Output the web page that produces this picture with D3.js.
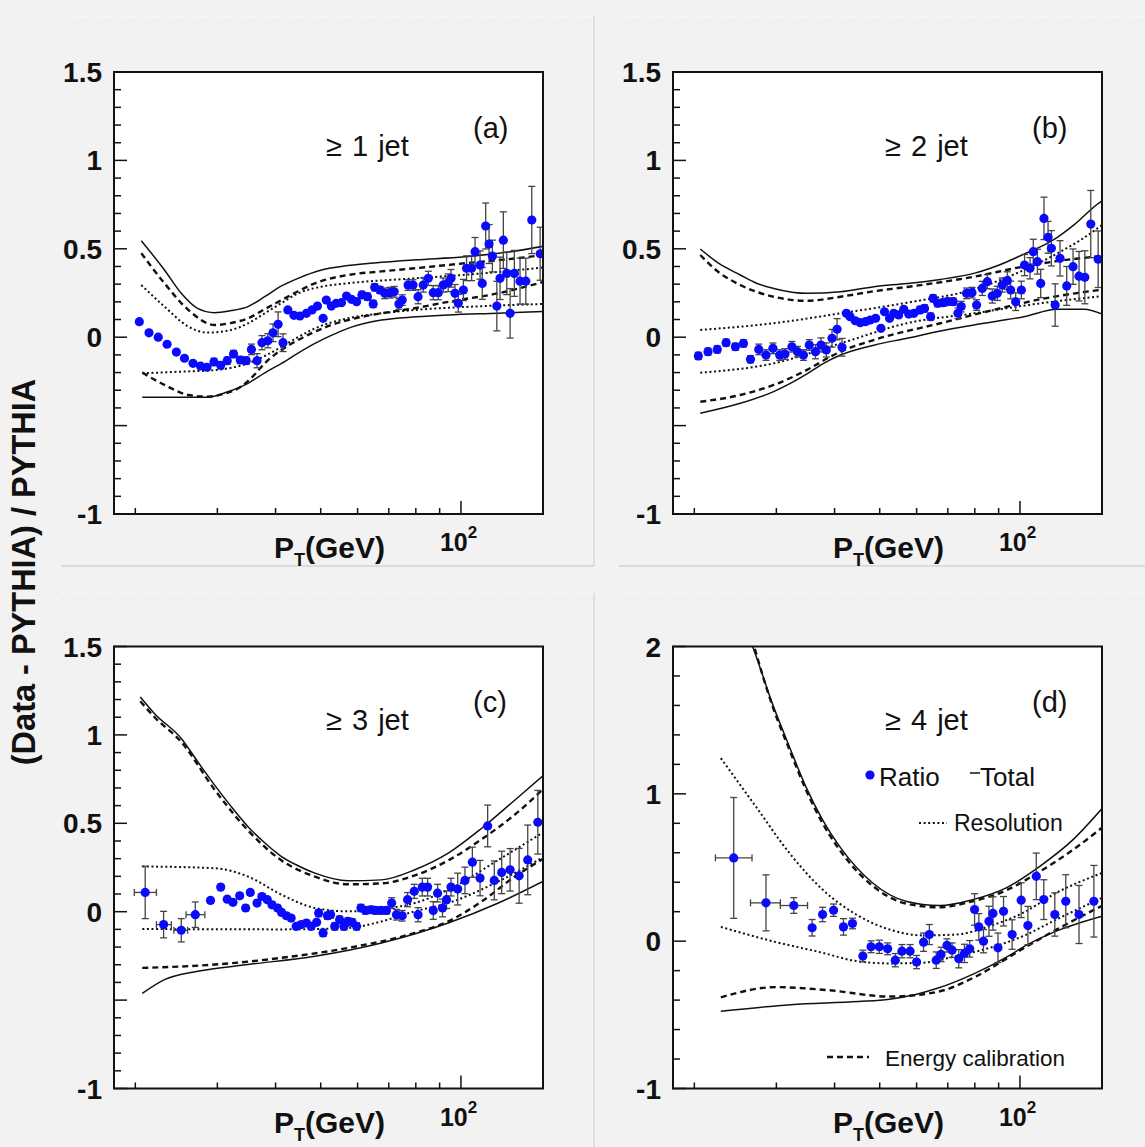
<!DOCTYPE html>
<html><head><meta charset="utf-8">
<script src="https://cdn.jsdelivr.net/npm/d3@7"></script>
<style>
html,body{margin:0;padding:0;background:#f2f2f2;}
svg{display:block;font-family:"Liberation Sans",Arial,Helvetica,sans-serif;}
</style></head><body>
<svg id="c" width="1145" height="1147"></svg>
<script>
// ---------------- data ----------------
// x-axis ticks (log scale, GeV)
const xMinorTicks = [20,30,40,50,60,70,80,90];
const xMajorTicks = [100];
const xDomain = [18, 150];
// y-axis labels
const yLabelValsABC = [1.5,1,0.5,0,-1];
const yLabelsABC = ["1.5","1","0.5","0","-1"];
const yLabelValsD = [2,1,0,-1];
const yLabelsD = ["2","1","0","-1"];
const panelLabels = ["\u2265 1 jet","\u2265 2 jet","\u2265 3 jet","\u2265 4 jet"];
const panelTags = ["(a)","(b)","(c)","(d)"];

// Panel (a)  >= 1 jet
const aPt = [20.4,21.4,22.4,23.4,24.5,25.5,26.6,27.6,28.5,29.5,30.5,31.5,32.5,33.6,34.6,35.5,36.5,37.4,38.5,39.5,40.5,41.5,42.5,43.8,45.1,46.6,47.9,49.2,50.6,51.4,52.7,54.0,55.4,56.8,58.2,59.7,61.3,63.0,64.8,65.3,67.0,68.6,70.4,71.9,73.6,74.8,77.0,78.9,80.9,83.0,85.1,87.2,89.4,91.6,93.9,95.2,97.1,98.7,101.2,102.8,105.4,107.2,109.9,111.1,113.0,114.9,116.8,119.4,121.3,123.3,125.4,127.5,130.2,133.9,137.8,141.9,147.9];
const aRatio = [0.088,0.025,0.0,-0.040,-0.084,-0.119,-0.148,-0.163,-0.170,-0.140,-0.159,-0.133,-0.095,-0.129,-0.133,-0.069,-0.133,-0.031,-0.020,0.025,0.073,-0.031,0.154,0.124,0.120,0.135,0.154,0.176,0.107,0.210,0.176,0.192,0.195,0.233,0.214,0.201,0.239,0.229,0.188,0.282,0.267,0.248,0.252,0.257,0.188,0.210,0.295,0.295,0.229,0.295,0.333,0.252,0.252,0.295,0.308,0.333,0.248,0.192,0.267,0.390,0.390,0.484,0.408,0.304,0.629,0.527,0.459,0.176,0.333,0.549,0.361,0.135,0.361,0.317,0.317,0.663,0.472];
const aErr = [0.01,0.01,0.01,0.01,0.01,0.01,0.01,0.01,0.01,0.02,0.02,0.02,0.02,0.02,0.02,0.03,0.04,0.04,0.04,0.05,0.07,0.05,0.01,0.01,0.01,0.01,0.01,0.01,0.01,0.01,0.01,0.01,0.01,0.01,0.01,0.01,0.02,0.02,0.02,0.02,0.02,0.03,0.03,0.03,0.03,0.03,0.03,0.03,0.04,0.04,0.04,0.04,0.04,0.04,0.05,0.05,0.05,0.05,0.06,0.07,0.07,0.08,0.08,0.09,0.13,0.11,0.09,0.14,0.12,0.16,0.12,0.14,0.13,0.13,0.13,0.19,0.15];
const aTotalHi = [[20.6,0.546],[23.1,0.38],[25.1,0.248],[27.2,0.163],[29.6,0.139],[32,0.15],[34.9,0.173],[37.9,0.229],[41.2,0.29],[44.7,0.333],[50.2,0.38],[57.2,0.405],[67.5,0.424],[80,0.438],[102,0.455],[125,0.48],[151,0.515]];
const aTotalLo = [[20.7,-0.34],[24,-0.34],[28.6,-0.34],[31.5,-0.31],[34.9,-0.261],[38,-0.2],[41.2,-0.148],[44.7,-0.09],[48.6,-0.035],[52.7,0.01],[57.2,0.05],[67.5,0.097],[80,0.115],[93.9,0.126],[120,0.136],[151,0.146]];
const aCalHi = [[20.6,0.475],[23.1,0.305],[26,0.154],[29.6,0.069],[32,0.08],[34.9,0.107],[38,0.16],[41.2,0.21],[44.7,0.26],[48.6,0.305],[57.2,0.352],[67.5,0.372],[79.6,0.39],[102,0.418],[125,0.44],[151,0.465]];
const aCalLo = [[20.7,-0.2],[23.1,-0.27],[26,-0.327],[28.6,-0.336],[31,-0.32],[33.7,-0.28],[35.8,-0.22],[37.9,-0.148],[41,-0.075],[44.7,-0.016],[52.7,0.069],[60,0.11],[67.5,0.135],[80,0.165],[93.9,0.2],[120,0.248],[151,0.314]];
const aResHi = [[20.6,0.295],[23.1,0.173],[26,0.06],[28.6,0.026],[32,0.04],[35,0.08],[37.9,0.135],[41,0.19],[44.7,0.248],[50,0.285],[57.2,0.305],[79.6,0.333],[110,0.36],[151,0.395]];
const aResLo = [[20.7,-0.204],[25,-0.195],[29.6,-0.186],[34.9,-0.148],[38,-0.105],[41.2,-0.054],[44.7,0.0],[48.6,0.05],[57.2,0.107],[67.5,0.135],[79.6,0.154],[110,0.175],[151,0.188]];

// Panel (b)  >= 2 jet
const bPt = [20.4,21.4,22.4,23.4,24.5,25.5,26.4,27.5,28.5,29.5,30.5,31.3,32.4,33.3,34.3,35.3,36.4,37.4,38.4,39.5,40.5,41.5,42.4,43.2,44.3,45.4,46.6,47.7,49.0,50.3,51.2,52.5,53.6,54.9,56.3,57.7,59.2,61.0,62.4,64.3,65.1,66.6,68.4,70.0,71.9,73.6,74.8,76.8,78.9,80.7,83.0,85.1,87.2,89.4,91.6,93.9,95.5,97.9,100.7,102.3,105.1,106.8,109.0,110.8,112.6,114.9,116.8,119.0,121.9,126.0,130.0,133.9,137.8,141.9,147.2];
const bRatio = [-0.106,-0.082,-0.069,-0.031,-0.054,-0.035,-0.125,-0.069,-0.101,-0.063,-0.101,-0.095,-0.054,-0.082,-0.101,-0.044,-0.082,-0.044,-0.072,-0.006,0.045,-0.057,0.135,0.116,0.093,0.082,0.088,0.097,0.107,0.050,0.144,0.107,0.135,0.126,0.158,0.131,0.135,0.154,0.163,0.116,0.220,0.192,0.195,0.201,0.201,0.135,0.173,0.248,0.252,0.182,0.276,0.314,0.233,0.248,0.295,0.320,0.267,0.201,0.267,0.408,0.390,0.484,0.427,0.304,0.672,0.565,0.503,0.182,0.446,0.290,0.399,0.345,0.339,0.640,0.441];
const bErr = [0.02,0.02,0.02,0.02,0.02,0.02,0.02,0.03,0.03,0.03,0.03,0.03,0.03,0.03,0.03,0.03,0.04,0.04,0.04,0.05,0.06,0.05,0.01,0.01,0.01,0.01,0.01,0.01,0.01,0.01,0.01,0.01,0.01,0.01,0.01,0.01,0.01,0.02,0.02,0.02,0.02,0.02,0.02,0.02,0.02,0.03,0.03,0.03,0.03,0.03,0.04,0.04,0.04,0.04,0.04,0.05,0.05,0.05,0.05,0.06,0.06,0.07,0.07,0.08,0.12,0.09,0.10,0.12,0.10,0.11,0.10,0.14,0.15,0.19,0.16];
const bTotalHi = [[20.6,0.499],[22.5,0.42],[25.1,0.352],[27.2,0.305],[29.6,0.276],[34.9,0.248],[41.2,0.257],[48.6,0.286],[57.2,0.304],[67.5,0.327],[79.6,0.361],[93.9,0.427],[102,0.47],[110.8,0.512],[120.3,0.565],[130.6,0.635],[149,0.766],[151,0.775]];
const bTotalLo = [[20.6,-0.43],[25.1,-0.374],[29.6,-0.308],[34.9,-0.208],[37.9,-0.148],[41.2,-0.101],[48.6,-0.045],[57.2,-0.006],[67.5,0.035],[79.6,0.069],[102,0.116],[120.3,0.158],[137.3,0.158],[151,0.128]];
const bCalHi = [[20.6,0.465],[22.5,0.37],[25.1,0.295],[29.6,0.229],[34.9,0.206],[41.2,0.229],[48.6,0.26],[57.2,0.284],[79.6,0.342],[102,0.40],[120,0.43],[151,0.46]];
const bCalLo = [[20.6,-0.365],[25.1,-0.327],[29.6,-0.27],[34.9,-0.185],[39.2,-0.11],[41.2,-0.082],[48.5,-0.016],[67.5,0.079],[93.9,0.173],[110.8,0.215],[151,0.27]];
const bResHi = [[20.6,0.041],[29.6,0.079],[41.2,0.135],[57.2,0.195],[79.6,0.271],[102,0.38],[120.3,0.474],[135,0.55],[151,0.64]];
const bResLo = [[20.6,-0.201],[29.6,-0.148],[41.2,-0.035],[57.2,0.079],[79.6,0.135],[110.8,0.192],[151,0.233]];

// Panel (c)  >= 3 jet
const cPt = [21.0,23.0,25.1,26.9,29.0,30.5,31.5,32.4,33.5,34.5,35.3,36.5,37.4,38.4,39.3,40.4,41.2,42.2,43.2,44.3,45.4,46.6,47.7,49.0,49.5,50.6,51.7,52.5,53.6,54.9,56.1,57.2,58.4,59.7,61.0,62.4,64.1,65.5,67.3,69.2,71.0,72.7,74.8,76.8,79.4,80.9,82.6,84.8,87.2,89.1,91.3,93.1,95.2,98.4,102.0,105.8,109.9,114.1,117.9,122.3,127.5,133.3,139.1,146.2];
const cRatio = [0.109,-0.073,-0.105,-0.017,0.064,0.139,0.071,0.053,0.090,0.021,0.109,0.049,0.086,0.068,0.039,0.021,-0.004,-0.023,-0.036,-0.083,-0.073,-0.064,-0.083,-0.060,-0.008,-0.120,-0.023,-0.017,-0.083,-0.045,-0.083,-0.055,-0.060,-0.083,0.021,0.007,0.011,0.007,0.007,0.007,0.049,-0.017,-0.023,0.068,0.115,-0.017,0.139,0.139,0.007,0.105,0.021,0.068,0.139,0.128,0.177,0.280,0.190,0.485,0.177,0.222,0.237,0.203,0.293,0.506];
const cErr = [0.148,0.075,0.066,0.072,0.015,0.015,0.015,0.015,0.015,0.015,0.015,0.015,0.015,0.015,0.015,0.015,0.015,0.015,0.015,0.015,0.015,0.015,0.015,0.015,0.02,0.02,0.02,0.02,0.02,0.02,0.02,0.02,0.02,0.02,0.02,0.02,0.02,0.02,0.02,0.02,0.03,0.03,0.03,0.04,0.04,0.04,0.05,0.05,0.05,0.05,0.05,0.05,0.05,0.09,0.075,0.085,0.10,0.118,0.11,0.12,0.12,0.155,0.197,0.18];
const cXLo = [19.9,22.2,24.2,25.7];
const cXHi = [22.2,23.9,25.9,28.2];
const cTotalHi = [[20.5,1.215],[22,1.12],[25.1,0.98],[27.2,0.85],[29.6,0.716],[32,0.6],[34.9,0.481],[37.9,0.39],[41.2,0.312],[44.7,0.26],[48.6,0.218],[57.2,0.175],[67.5,0.18],[79.6,0.237],[93.9,0.331],[110.8,0.472],[130.6,0.632],[151,0.775]];
const cTotalLo = [[20.7,-0.462],[23.1,-0.384],[27.2,-0.337],[34.9,-0.299],[48.6,-0.252],[67.5,-0.177],[93.9,-0.064],[120.3,0.049],[151,0.175]];
const cCalHi = [[20.5,1.19],[22,1.1],[25.1,0.96],[29.6,0.69],[34.9,0.46],[41.2,0.29],[48.6,0.198],[57.2,0.155],[67.5,0.16],[79.6,0.205],[93.9,0.29],[110.8,0.41],[130.6,0.55],[151,0.70]];
const cCalLo = [[20.7,-0.318],[29.6,-0.299],[41.2,-0.261],[57.2,-0.205],[79.6,-0.12],[93.9,-0.055],[110.8,0.058],[130.6,0.199],[151,0.303]];
const cResHi = [[20.7,0.256],[29.6,0.246],[34.9,0.199],[41.2,0.096],[48.6,0.021],[57.2,0.002],[67.5,0.015],[79.6,0.049],[93.9,0.124],[120.3,0.293],[151,0.453]];
const cResLo = [[20.7,-0.098],[41.2,-0.1],[57.2,-0.092],[67.5,-0.055],[79.6,0.002],[93.9,0.049],[120.3,0.171],[151,0.312]];

// Panel (d)  >= 4 jet
const dPt = [24.3,28.5,32.7,35.8,37.7,39.8,41.8,43.7,46.0,47.9,49.9,52.0,54.0,55.8,58.1,60.0,62.1,63.9,66.1,67.7,69.7,71.5,73.9,76.0,78.0,79.9,81.6,83.5,85.8,87.5,89.7,92.2,96.2,100.6,104.0,108.4,112.5,118.8,125.4,133.9,144.1];
const dRatio = [0.565,0.260,0.242,0.091,0.181,0.210,0.097,0.120,-0.101,-0.038,-0.038,-0.052,-0.129,-0.068,-0.068,-0.142,-0.007,0.045,-0.129,-0.090,-0.029,-0.061,-0.119,-0.083,-0.052,0.215,0.097,0.0,0.135,0.188,-0.045,0.203,0.045,0.278,0.106,0.440,0.282,0.181,0.271,0.181,0.271];
const dErr = [0.41,0.19,0.053,0.056,0.049,0.042,0.056,0.036,0.04,0.04,0.045,0.04,0.045,0.045,0.045,0.045,0.062,0.068,0.056,0.049,0.045,0.049,0.062,0.062,0.056,0.107,0.09,0.079,0.102,0.113,0.10,0.10,0.10,0.118,0.13,0.158,0.135,0.147,0.18,0.197,0.243];
const dXLo = [22.2,26.4,30.6];
const dXHi = [26.6,30.6,35.0];
const dTotalHi = [[26.3,2.05],[26.7,1.997],[29.4,1.614],[32,1.32],[34.7,1.049],[37.7,0.824],[41,0.643],[48.3,0.395],[56.9,0.271],[67.2,0.242],[79.2,0.282],[93.4,0.362],[110.3,0.508],[130,0.689],[150,0.9]];
const dTotalLo = [[22.8,-0.476],[32.2,-0.431],[45,-0.41],[52.5,-0.394],[60,-0.36],[66.5,-0.32],[79.8,-0.22],[93.4,-0.11],[102.9,-0.03],[120,0.07],[150,0.17]];
const dCalHi = [[26.6,2.05],[29.4,1.60],[32,1.30],[34.7,1.03],[37.7,0.80],[41,0.62],[48.3,0.375],[57,0.255],[67,0.23],[79,0.27],[93.4,0.345],[110,0.47],[130,0.62],[150,0.77]];
const dCalLo = [[22.8,-0.381],[29.9,-0.312],[38.6,-0.332],[52.5,-0.376],[66.5,-0.344],[79.8,-0.245],[93.4,-0.12],[102.9,-0.04],[120,0.08],[150,0.24]];
const dResHi = [[22.8,1.242],[27.1,0.914],[32,0.598],[37.7,0.35],[44.5,0.181],[52.5,0.079],[61.9,0.039],[72.9,0.045],[86.1,0.102],[101.5,0.192],[119.7,0.328],[150,0.463]];
const dResLo = [[22.8,0.097],[29.4,0.0],[37.7,-0.079],[44.5,-0.135],[52.5,-0.151],[61.9,-0.146],[72.9,-0.102],[86.1,-0.045],[101.5,0.034],[119.7,0.147],[150,0.294]];

// legend texts
const legendItems = ["Ratio","Total","Resolution","Energy calibration"];

// ---------------- drawing ----------------
const svg = d3.select("#c");
const W = 429, H = 442;
const panels = [
  {x0:114, y0:72,    yDom:[-1,1.5], yMinor:0.1, yMajor:0.5, yv:yLabelValsABC, yl:yLabelsABC,
   pt:aPt, r:aRatio, e:aErr, xlo:[], xhi:[], curves:[aTotalHi,aTotalLo,aCalHi,aCalLo,aResHi,aResLo]},
  {x0:673, y0:72,    yDom:[-1,1.5], yMinor:0.1, yMajor:0.5, yv:yLabelValsABC, yl:yLabelsABC,
   pt:bPt, r:bRatio, e:bErr, xlo:[], xhi:[], curves:[bTotalHi,bTotalLo,bCalHi,bCalLo,bResHi,bResLo]},
  {x0:114, y0:646.5, yDom:[-1,1.5], yMinor:0.1, yMajor:0.5, yv:yLabelValsABC, yl:yLabelsABC,
   pt:cPt, r:cRatio, e:cErr, xlo:cXLo, xhi:cXHi, curves:[cTotalHi,cTotalLo,cCalHi,cCalLo,cResHi,cResLo]},
  {x0:673, y0:646.5, yDom:[-1,2], yMinor:0.2, yMajor:1, yv:yLabelValsD, yl:yLabelsD,
   pt:dPt, r:dRatio, e:dErr, xlo:dXLo, xhi:dXHi, curves:[dTotalHi,dTotalLo,dCalHi,dCalLo,dResHi,dResLo]}
];
const curveStyles = [
  {w:1.5, dash:null},{w:1.5, dash:null},
  {w:2.4, dash:"6,4"},{w:2.4, dash:"6,4"},
  {w:2.0, dash:"2,2.6"},{w:2.0, dash:"2,2.6"}
];

// pad decorations
const deco = svg.append("g");
[[61,594],[619,1145]].forEach(([xa,xb])=>{
  [16.5,593].forEach(yy=>deco.append("line").attr("x1",xa).attr("x2",xb).attr("y1",yy).attr("y2",yy)
     .attr("stroke","#fafafa").attr("stroke-width",1.5).attr("stroke-dasharray","3,3"));
  deco.append("line").attr("x1",xa).attr("x2",xb).attr("y1",566).attr("y2",566)
     .attr("stroke","#d4d4d4").attr("stroke-width",1.5);
});
deco.append("line").attr("x1",594).attr("x2",594).attr("y1",16).attr("y2",566).attr("stroke","#d8d8d8").attr("stroke-width",1.5);
deco.append("line").attr("x1",594).attr("x2",594).attr("y1",593).attr("y2",1147).attr("stroke","#d8d8d8").attr("stroke-width",1.5);

panels.forEach((p,i)=>{
  const g = svg.append("g");
  const x = d3.scaleLog().domain(xDomain).range([p.x0, p.x0+W]);
  const y = d3.scaleLinear().domain(p.yDom).range([p.y0+H, p.y0]);
  const cid = "clip"+i;
  g.append("clipPath").attr("id",cid).append("rect")
    .attr("x",p.x0).attr("y",p.y0).attr("width",W).attr("height",H);
  g.append("rect").attr("x",p.x0).attr("y",p.y0).attr("width",W).attr("height",H)
    .attr("fill","#ffffff");

  // curves
  const line = d3.line().x(d=>x(d[0])).y(d=>y(d[1])).curve(d3.curveMonotoneX);
  const cg = g.append("g").attr("clip-path",`url(#${cid})`);
  p.curves.forEach((c,k)=>{
    const st = curveStyles[k];
    const path = cg.append("path").attr("d",line(c)).attr("fill","none")
      .attr("stroke","#111").attr("stroke-width",st.w);
    if(st.dash) path.attr("stroke-dasharray",st.dash);
  });

  // error bars
  const eg = cg.append("g").attr("stroke","#444").attr("stroke-width",1.3);
  const cap = 3.5;
  p.pt.forEach((v,j)=>{
    const xx = x(v), y1 = y(p.r[j]-p.e[j]), y2 = y(p.r[j]+p.e[j]);
    eg.append("line").attr("x1",xx).attr("x2",xx).attr("y1",y1).attr("y2",y2);
    eg.append("line").attr("x1",xx-cap).attr("x2",xx+cap).attr("y1",y1).attr("y2",y1);
    eg.append("line").attr("x1",xx-cap).attr("x2",xx+cap).attr("y1",y2).attr("y2",y2);
    if(j < p.xlo.length){
      const yy = y(p.r[j]), xa = x(p.xlo[j]), xb = x(p.xhi[j]);
      eg.append("line").attr("x1",xa).attr("x2",xb).attr("y1",yy).attr("y2",yy);
      eg.append("line").attr("x1",xa).attr("x2",xa).attr("y1",yy-cap).attr("y2",yy+cap);
      eg.append("line").attr("x1",xb).attr("x2",xb).attr("y1",yy-cap).attr("y2",yy+cap);
    }
  });
  // points
  cg.append("g").selectAll("circle").data(p.pt).join("circle")
    .attr("cx",d=>x(d)).attr("cy",(d,j)=>y(p.r[j])).attr("r",4.6).attr("fill","#0a0aff");

  // frame
  g.append("rect").attr("x",p.x0).attr("y",p.y0).attr("width",W).attr("height",H)
    .attr("fill","none").attr("stroke","#111").attr("stroke-width",2);

  // x ticks (inside, from bottom)
  const tg = g.append("g").attr("stroke","#111").attr("stroke-width",1.5);
  xMinorTicks.forEach(t=>tg.append("line").attr("x1",x(t)).attr("x2",x(t)).attr("y1",p.y0+H).attr("y2",p.y0+H-6));
  xMajorTicks.forEach(t=>tg.append("line").attr("x1",x(t)).attr("x2",x(t)).attr("y1",p.y0+H).attr("y2",p.y0+H-13));
  // y ticks
  const nMin = Math.round((p.yDom[1]-p.yDom[0])/p.yMinor);
  for(let k=0;k<=nMin;k++){
    const v = p.yDom[0] + k*p.yMinor;
    const isMaj = Math.abs(v/p.yMajor - Math.round(v/p.yMajor)) < 1e-6;
    tg.append("line").attr("x1",p.x0).attr("x2",p.x0+(isMaj?13:7)).attr("y1",y(v)).attr("y2",y(v));
  }
  // y labels
  p.yv.forEach((v,k)=>{
    g.append("text").attr("x",p.x0-12).attr("y",y(v)+10).attr("text-anchor","end")
      .attr("font-size",28).attr("font-weight","bold").attr("fill","#111").text(p.yl[k]);
  });
  // x label 10^2
  const xt = g.append("text").attr("x",x(100)-21).attr("y",p.y0+H+37)
    .attr("font-size",25).attr("font-weight","bold").attr("fill","#111");
  xt.append("tspan").text("10");
  xt.append("tspan").attr("font-size",17).attr("dy",-13).text("2");
  // x title
  const tt = g.append("text").attr("x",p.x0+160).attr("y",p.y0+H+44)
    .attr("font-size",30).attr("font-weight","bold").attr("fill","#111");
  tt.append("tspan").text("P");
  tt.append("tspan").attr("font-size",18).attr("dy",8).text("T");
  tt.append("tspan").attr("dy",-8).text("(GeV)");
  // panel labels
  g.append("text").attr("x",p.x0+212).attr("y",p.y0+83.5).attr("font-size",29)
    .attr("word-spacing",2).attr("fill","#111").text(panelLabels[i]);
  g.append("text").attr("x",p.x0+359).attr("y",p.y0+65.6).attr("font-size",29)
    .attr("fill","#111").text(panelTags[i]);

  if(i===3){
    const lg = g.append("g").attr("fill","#111");
    lg.append("circle").attr("cx",p.x0+197).attr("cy",p.y0+128.5).attr("r",4.6).attr("fill","#0a0aff");
    lg.append("text").attr("x",p.x0+206).attr("y",p.y0+139.5).attr("font-size",26).text(legendItems[0]);
    lg.append("line").attr("x1",p.x0+297).attr("x2",p.x0+307).attr("y1",p.y0+126.5).attr("y2",p.y0+126.5)
      .attr("stroke","#111").attr("stroke-width",1.5);
    lg.append("text").attr("x",p.x0+307).attr("y",p.y0+139.5).attr("font-size",26).text(legendItems[1]);
    lg.append("line").attr("x1",p.x0+246).attr("x2",p.x0+274).attr("y1",p.y0+176.5).attr("y2",p.y0+176.5)
      .attr("stroke","#111").attr("stroke-width",2).attr("stroke-dasharray","2,2.6");
    lg.append("text").attr("x",p.x0+281).attr("y",p.y0+184).attr("font-size",23).text(legendItems[2]);
    lg.append("line").attr("x1",p.x0+154).attr("x2",p.x0+196).attr("y1",p.y0+410.5).attr("y2",p.y0+410.5)
      .attr("stroke","#111").attr("stroke-width",2.4).attr("stroke-dasharray","6,4");
    lg.append("text").attr("x",p.x0+212).attr("y",p.y0+419).attr("font-size",22.5).text(legendItems[3]);
  }
});

// y-axis title
svg.append("text").attr("transform","translate(35,572) rotate(-90)").attr("text-anchor","middle")
  .attr("font-size",32.5).attr("font-weight","bold").attr("fill","#111").text("(Data - PYTHIA) / PYTHIA");
</script>
</body></html>
